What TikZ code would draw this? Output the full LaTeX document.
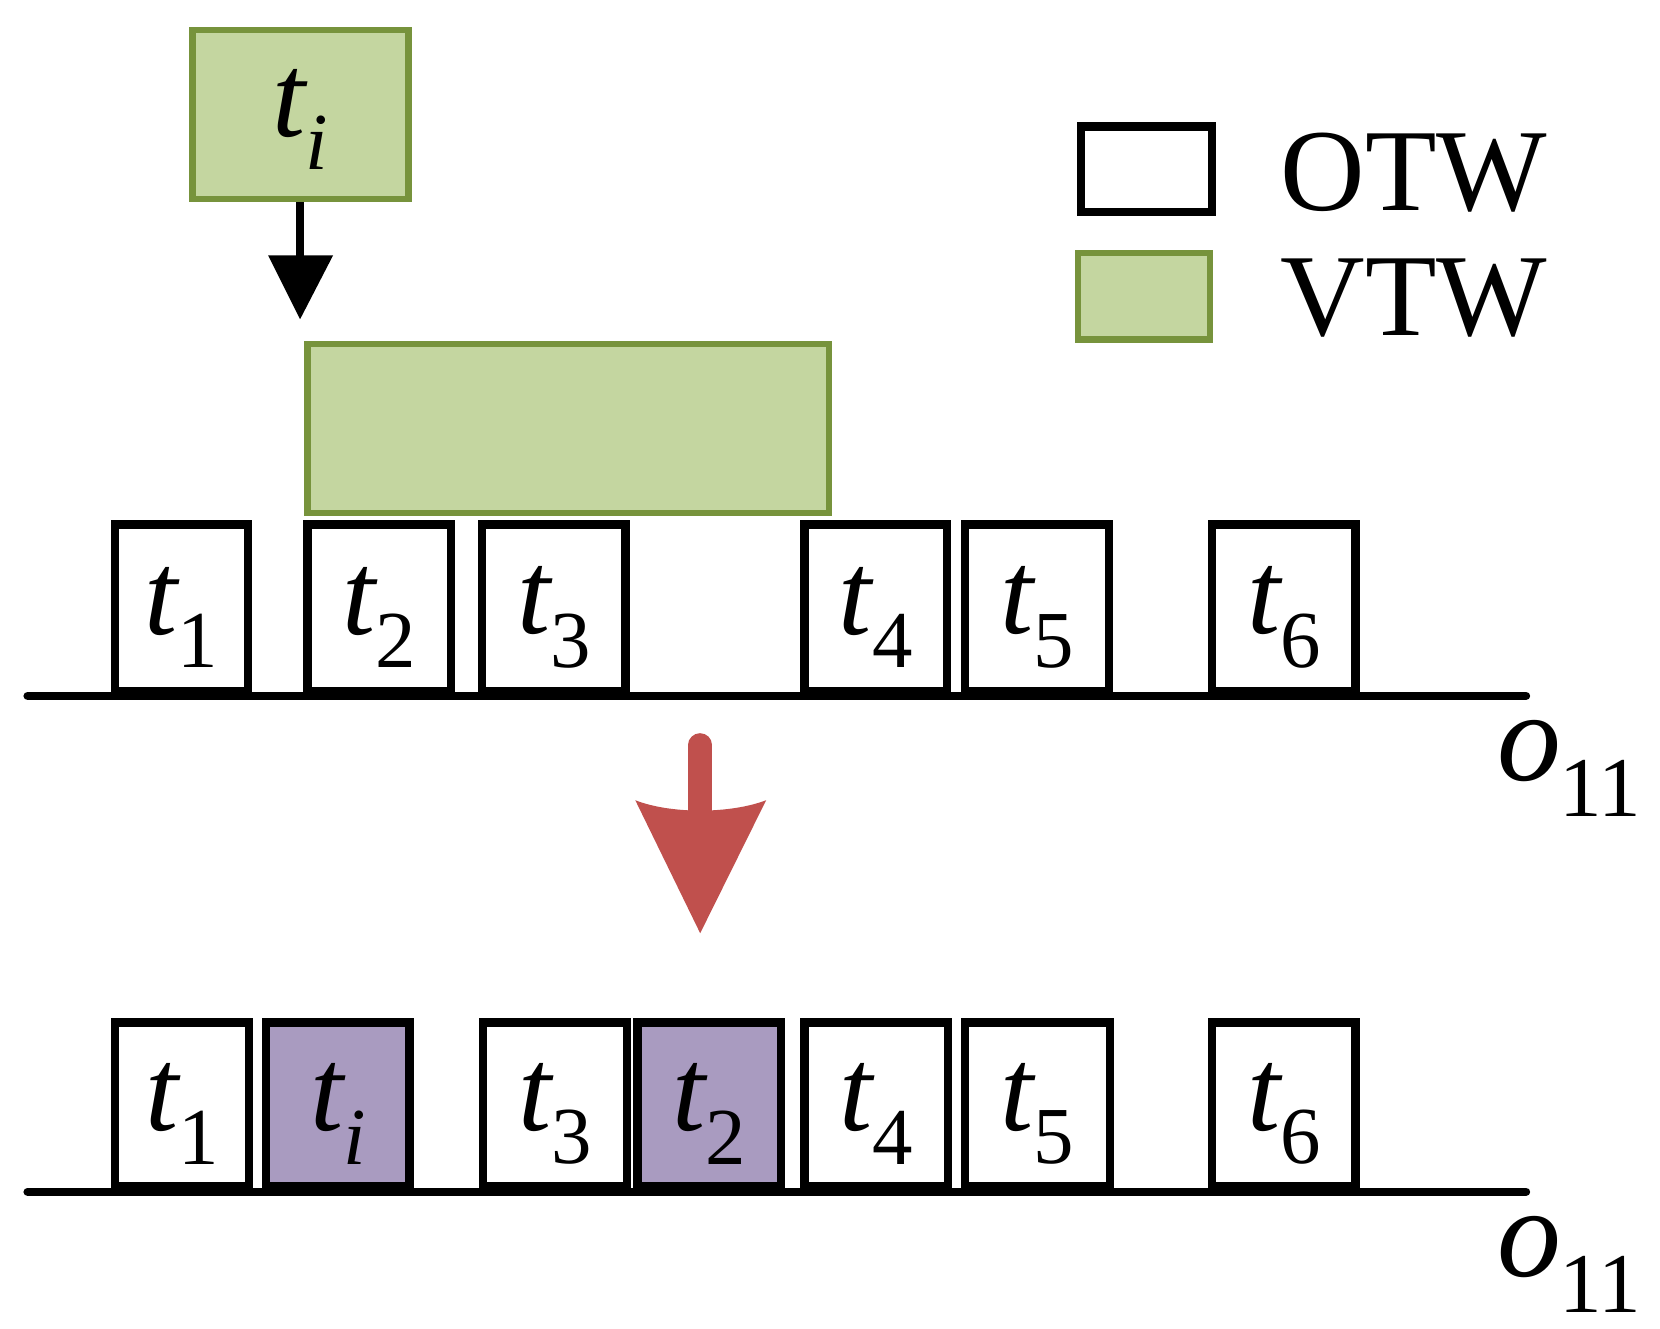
\documentclass[tikz,border=0pt]{standalone}
\usepackage{fontspec}
\setmainfont{Liberation Serif}
\definecolor{gfill}{HTML}{C4D6A0}
\definecolor{gdraw}{HTML}{77933C}
\definecolor{pfill}{HTML}{A99BC0}
\definecolor{rarr}{HTML}{C0504D}
\newcommand{\lbl}[2]{\fontsize{112}{112}\selectfont\itshape t\kern0pt\raisebox{-0.28em}{\fontsize{76}{76}\selectfont #2}}
\begin{document}
\begin{tikzpicture}[x=1pt,y=-1pt,
  otw/.style={draw=black,line width=8pt,fill=white},
  vtw/.style={draw=gdraw,line width=6pt,fill=gfill},
  pur/.style={draw=black,line width=8pt,fill=pfill},
  base/.style={line width=8pt,line cap=round}]
\useasboundingbox (0,0) rectangle (1560,1248);
% top ti
\draw[vtw] (181,28) rectangle (384,187);
\node (ti) at (282,112) {\lbl{t}{\itshape i}};
\coordinate (tib) at (282,190);
\coordinate (tia) at (282,300);
\draw[line width=8pt] (tib) -- (282,245);
\fill (252,240) -- (313,240) -- (tia) -- cycle;
% legend
\draw[otw] (1016,119) rectangle (1139,199);
\node[anchor=west,font=\fontsize{110}{110}\selectfont] (l1) at (1200,162) {OTW};
\draw[vtw] (1013,238) rectangle (1137,319);
\node[anchor=west,font=\fontsize{110}{110}\selectfont] (l2) at (1200,280) {VTW};
% big green
\draw[vtw] (289,323) rectangle (779,482);
% top row
\foreach \a/\b/\n [count=\k] in {108/233/1,289/424/2,453/588/3,756/890/4,907/1042/5,1139/1274/6}{
  \draw[otw] (\a,493) rectangle (\b,650);
  \node (a\k) at ({(\a+\b)/2},580) {\lbl{t}{\upshape\n}};
}
\coordinate (l1s) at (26,654); \coordinate (l1e) at (1434,654);
\draw[base] (l1s) -- (l1e);
\node[font=\fontsize{120}{120}\selectfont] (o1) at (1475,722) {\itshape o\kern-2pt\raisebox{-0.28em}{\upshape\fontsize{80}{80}\selectfont 11}};
% red arrow
\draw[rarr,line width=22pt,line cap=round] (658,700) -- (658,765);
\fill[rarr] (597,752) .. controls (630,765) and (686,765) .. (720,752) -- (658,877) -- cycle;
% bottom row
\foreach \a/\b/\n/\s [count=\k] in {108/234/\upshape 1/otw,250/385/\itshape i/pur,454/589/\upshape 3/otw,599/734/\upshape 2/pur,756/891/\upshape 4/otw,907/1043/\upshape 5/otw,1139/1274/\upshape 6/otw}{
  \draw[\s] (\a,961) rectangle (\b,1115);
  \node (b\k) at ({(\a+\b)/2},1047) {\lbl{t}{\n}};
}
\coordinate (l2s) at (26,1120); \coordinate (l2e) at (1434,1120);
\draw[base] (l2s) -- (l2e);
\node[font=\fontsize{120}{120}\selectfont] (o2) at (1475,1188) {\itshape o\kern-2pt\raisebox{-0.28em}{\upshape\fontsize{80}{80}\selectfont 11}};
\end{tikzpicture}
\end{document}
